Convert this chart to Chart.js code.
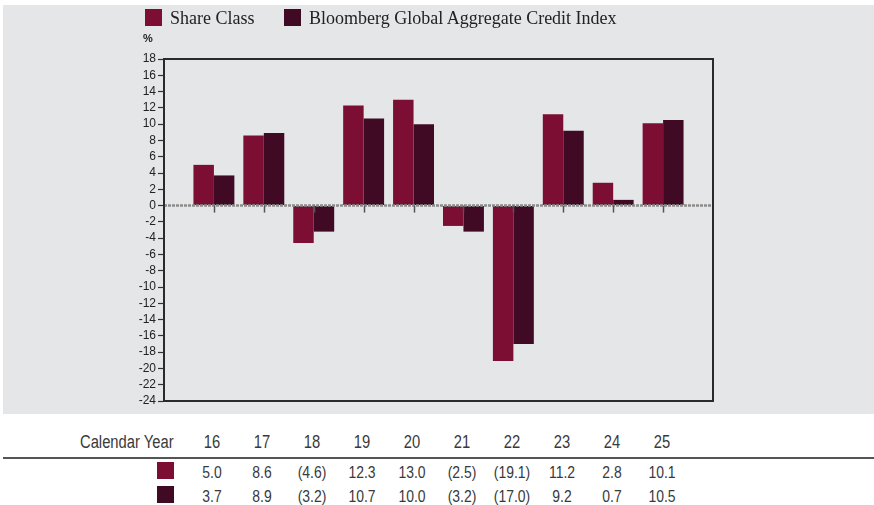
<!DOCTYPE html>
<html>
<head>
<meta charset="utf-8">
<script src="https://cdn.jsdelivr.net/npm/chart.js@4.4.0/dist/chart.umd.min.js"></script>
<style>
  body { margin: 0; background: #fff; width: 874px; height: 505px; position: relative; overflow: hidden; }
  #panel { position: absolute; left: 3px; top: 5px; width: 871px; height: 409px; background: #e5e6e8; }
  #chart { position: absolute; left: 0; top: 0; }
  .leg { position: absolute; top: 8px; font-family: "Liberation Serif", serif; font-size: 18px; color: #222; line-height: 20px; }
  .sw { position: absolute; width: 17px; height: 17px; }
  #pct { position: absolute; left: 140px; top: 27px; font-family: "Liberation Sans", Arial, sans-serif; font-size: 11px; font-weight: bold; color: #222; }
  .tbl { position: absolute; font-family: "Liberation Sans", sans-serif; color: #3a3a3a; white-space: nowrap; transform: scaleX(0.82); }
  .head { transform-origin: left center; }
  .cell { position: absolute; width: 60px; text-align: center; transform-origin: center center; }
  #rule { position: absolute; left: 3px; top: 457px; width: 871px; height: 2px; background: #555; }
</style>
</head>
<body>
<div id="panel">
  <canvas id="chart" width="871" height="409"></canvas>
  <div class="sw" style="left:142px;top:4px;background:#7b0e32"></div>
  <div class="leg" style="left:167px;top:3px">Share Class</div>
  <div class="sw" style="left:281px;top:4px;background:#400a25"></div>
  <div class="leg" style="left:306px;top:3px">Bloomberg Global Aggregate Credit Index</div>
  <div id="pct">%</div>
</div>
<div id="table"></div>
<div id="rule"></div>
<script>
const years = ['16', '17', '18', '19', '20', '21', '22', '23', '24', '25'];
const shareClass = [5.0, 8.6, -4.6, 12.3, 13.0, -2.5, -19.1, 11.2, 2.8, 10.1];
const benchmark = [3.7, 8.9, -3.2, 10.7, 10.0, -3.2, -17.0, 9.2, 0.7, 10.5];
const seriesNames = ['Share Class', 'Bloomberg Global Aggregate Credit Index'];
const colors = ['#7b0e32', '#400a25'];

function fmt(v) {
    return v < 0 ? '(' + Math.abs(v).toFixed(1) + ')' : v.toFixed(1);
}

// table below the chart
const table = document.getElementById('table');
let html = '<div class="tbl head" style="left:80px;top:432px;font-size:18px">Calendar Year</div>';
years.forEach((y, i) => {
    html += '<div class="tbl cell" style="left:' + (182 + 50 * i) + 'px;top:432px;font-size:18px">' + y + '</div>';
    html += '<div class="tbl cell" style="left:' + (182 + 50 * i) + 'px;top:463px;font-size:17px">' + fmt(shareClass[i]) + '</div>';
    html += '<div class="tbl cell" style="left:' + (182 + 50 * i) + 'px;top:487px;font-size:17px">' + fmt(benchmark[i]) + '</div>';
});
html += '<div class="sw" style="left:157px;top:462px;background:' + colors[0] + '"></div>';
html += '<div class="sw" style="left:157px;top:486px;background:' + colors[1] + '"></div>';
table.innerHTML = html;

const extras = {
    id: 'extras',
    afterDatasetsDraw(chart) {
        const ctx = chart.ctx;
        const a = chart.chartArea;
        const x = chart.scales.x;
        const y0 = chart.scales.y.getPixelForValue(0);
        ctx.save();
        // dotted zero line
        ctx.strokeStyle = '#8c8c8c';
        ctx.lineWidth = 2.5;
        ctx.setLineDash([3, 1]);
        ctx.beginPath();
        ctx.moveTo(a.left, y0);
        ctx.lineTo(a.right, y0);
        ctx.stroke();
        ctx.setLineDash([]);
        // category ticks on the zero line
        ctx.strokeStyle = '#555';
        ctx.lineWidth = 1.5;
        years.forEach((yr, i) => {
            const px = Math.round(x.getPixelForValue(i + 1)) + 0.5;
            ctx.beginPath();
            ctx.moveTo(px, y0);
            ctx.lineTo(px, y0 + 7);
            ctx.stroke();
        });
        // plot frame
        ctx.strokeStyle = '#2a2a2a';
        ctx.lineWidth = 2;
        ctx.strokeRect(a.left, a.top, a.right - a.left, a.bottom - a.top);
        ctx.restore();
    }
};

new Chart(document.getElementById('chart'), {
    type: 'bar',
    data: {
        datasets: [
            {
                label: seriesNames[0],
                data: shareClass.map((v, i) => ({ x: i + 1, y: v })),
                backgroundColor: colors[0]
            },
            {
                label: seriesNames[1],
                data: benchmark.map((v, i) => ({ x: i + 1, y: v })),
                backgroundColor: colors[1]
            }
        ]
    },
    options: {
        responsive: false,
        animation: false,
        categoryPercentage: 0.82,
        barPercentage: 1,
        layout: { padding: { top: 54, right: 161, bottom: 13, left: 0 } },
        plugins: { legend: { display: false }, tooltip: { enabled: false } },
        scales: {
            x: { type: 'linear', min: 0, max: 11, offset: false, display: false },
            y: {
                min: -24,
                max: 18,
                afterFit(scale) { scale.width = 161; },
                ticks: {
                    stepSize: 2,
                    autoSkip: false,
                    padding: 2,
                    color: '#222',
                    font: { family: '"Liberation Sans", Arial', size: 12 }
                },
                grid: { drawOnChartArea: false, tickLength: 6, tickColor: '#333', tickWidth: 1.2 },
                border: { display: true, color: '#2a2a2a', width: 2 }
            }
        }
    },
    plugins: [extras]
});
</script>
</body>
</html>
